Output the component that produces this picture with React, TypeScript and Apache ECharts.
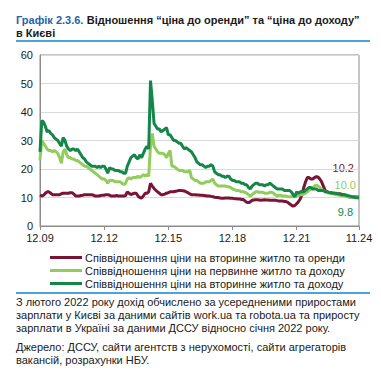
import React, { useEffect, useRef } from "react";
import * as echarts from "echarts";

// Months Dec 2009 .. Nov 2024 (180 monthly points)
const categories: string[] = (() => {
  const out: string[] = [];
  let y = 2009, m = 12;
  for (let i = 0; i < 180; i++) {
    out.push(String(m).padStart(2, "0") + "." + String(y % 100).padStart(2, "0"));
    m++;
    if (m > 12) { m = 1; y++; }
  }
  return out;
})();

const tickLabels = ["12.09", "12.12", "12.15", "12.18", "12.21", "11.24"];

const seriesNames = [
  "Співвідношення ціни на вторинне житло та оренди",
  "Співвідношення ціни на первинне житло та доходу",
  "Співвідношення ціни на вторинне житло та доходу",
];

const rentSecondary = [
  10.9, 10.5, 10.8, 11.5, 12, 12, 11.5, 11, 11, 11,
  11, 11, 11.3, 11.5, 11.5, 11.5, 11.5, 11.7, 11.7, 11.2,
  10.5, 10.5, 10.5, 10.7, 10.8, 11, 11, 11, 11, 11,
  10.8, 10.5, 10.5, 10.5, 10.7, 10.8, 10.8, 11, 11, 10.8,
  10.5, 10.5, 10.5, 10.7, 10.5, 10.5, 10.5, 10.5, 10.7, 12,
  11.5, 11, 11.3, 11.5, 11.5, 10.5, 10, 9.8, 10.5, 11.5,
  11.5, 12, 15, 14, 13.2, 12.5, 12, 11.5, 11, 11,
  11.2, 11.5, 11.7, 12, 12, 12, 12.2, 12.3, 12.5, 12.5,
  12.4, 12.3, 12, 11.7, 11.3, 11, 11, 11, 10.9, 10.9,
  10.8, 10.8, 10.7, 10.6, 10.5, 10.5, 10.4, 10.3, 10.1, 10,
  10, 9.8, 9.7, 9.7, 9.8, 9.8, 9.8, 9.7, 9.7, 9.6,
  9.6, 9.5, 9.5, 9.3, 9.3, 8.8, 8.3, 8.2, 8.5, 9,
  9.1, 9.2, 9.2, 9.1, 9, 9.1, 9.2, 9.1, 9.1, 9,
  9, 9, 9, 8.9, 8.8, 8.8, 8.8, 8.6, 8.6, 8.3,
  7.8, 7.3, 7, 7.2, 7.8, 8.5, 9.5, 11, 13.5, 15.5,
  17, 17, 16.5, 16.5, 17, 17.3, 17.2, 16.5, 15.5, 14,
  12.5, 12, 11.8, 11.7, 11.5, 11.5, 11.3, 11.2, 11.3, 11.2,
  11, 10.8, 10.5, 10.3, 10.2, 10.2, 10.2, 10.2, 10.2, 10.2,
];

const incomePrimary = [
  23, 30, 29, 28, 27, 26.5, 26.5, 26, 26.5, 26,
  25.5, 24, 22, 26, 27, 25, 24, 24, 23.5, 23.5,
  23, 23, 22.5, 22, 21.5, 21, 21, 20.5, 20, 19.5,
  19, 18.5, 18, 17.5, 17, 16.5, 16.5, 16, 15, 16,
  16, 16, 15.5, 15.5, 15.5, 15.5, 15, 14.5, 15, 16.5,
  17, 16.5, 17, 17, 17, 17.5, 17, 17.5, 18, 17.5,
  18, 17.5, 28, 32.5, 28, 27, 26, 25.5, 25.5, 25.5,
  25, 24, 25.5, 26.5, 21, 21, 20.5, 20, 19.5, 19.5,
  19.5, 19, 19, 19, 19.5, 17, 16.5, 16, 16, 15.5,
  15, 15, 15, 15.5, 15.5, 15.5, 16, 16.5, 15, 14.5,
  14, 14, 14, 14, 14, 13.8, 13.8, 13.5, 13, 12.8,
  12.5, 12.5, 12.3, 12, 12, 11.8, 11.5, 11, 10.5, 11,
  11.5, 12, 12, 11.8, 11.8, 11.8, 11.5, 11.5, 11.5, 11.8,
  11.8, 11.5, 11, 10.5, 10.8, 10.8, 10.5, 10.5, 10.5, 10.3,
  10.3, 10.3, 10.3, 10.3, 10.5, 10.8, 11, 11, 11.2, 11.5,
  12, 12.5, 12.8, 13.2, 14, 14.4, 14, 13.5, 12.8, 12.5,
  12, 11.8, 11.5, 11.5, 11.3, 11.2, 11, 11, 10.8, 10.7,
  10.6, 10.5, 10.4, 10.3, 10.2, 10.2, 10.1, 10, 10, 10,
];

const incomeSecondary = [
  26, 37, 36.5, 35, 33, 33.5, 32.5, 32, 31, 30.5,
  30, 29, 28, 31, 30, 28, 27, 26.5, 27, 27,
  26.5, 27, 26, 25, 24, 23.5, 22.5, 22, 21.5, 21,
  21, 21, 20.5, 21, 20.5, 21, 21, 20, 18.5, 20.5,
  20, 20, 19.5, 19.5, 19.5, 19, 19, 18.5, 18.5, 21,
  22.5, 24, 24.5, 25, 24, 23.5, 25, 24, 25.5, 27,
  28, 27, 51, 44, 36, 35, 34, 34, 33, 33.5,
  34, 34.5, 32, 32, 31, 30, 30, 29.5, 29, 29,
  28, 27, 27.5, 27, 26.5, 26, 25, 24, 22.5, 22,
  21.5, 21.5, 21, 20.5, 21, 21, 21.5, 21, 19, 18.5,
  18, 18, 17.5, 17.5, 17, 17.5, 17.5, 16.5, 16, 16,
  15.5, 15.5, 15.5, 15, 15, 14.5, 14.5, 13.5, 13, 14,
  14.5, 15, 15, 14.5, 14.5, 14.5, 14, 14.5, 14.5, 15,
  14.5, 14, 13.5, 13, 13, 13, 13, 12.5, 12.5, 12.5,
  12.5, 12, 11, 10.3, 12, 11.5, 12, 12, 12, 12.5,
  13, 13.5, 13.5, 13, 13, 13, 12.5, 12.5, 12.5, 12.5,
  12, 12, 11.8, 11.7, 11.6, 11.5, 11.5, 11.3, 11.2, 11,
  11, 11, 10.8, 10.6, 10.5, 10.3, 10.2, 10, 9.9, 9.8,
];

const endLabels = ["10.2", "10.0", "9.8"];
const colors = ["#7a1437", "#92cc5c", "#14864a"];

const FONT = "'Liberation Sans', Arial, sans-serif";

export default function App() {
  const ref = useRef<HTMLDivElement>(null);
  useEffect(() => {
    if (!ref.current) return;
    const chart = echarts.init(ref.current, null, { renderer: "svg" });
    const shown = new Set(tickLabels);
    const showIdx = (i: number) => shown.has(categories[i]);
    const mk = (idx: number, data: number[]) => ({
      name: seriesNames[idx],
      type: "line",
      data,
      showSymbol: false,
      symbol: "none",
      lineStyle: { color: colors[idx], width: 3 },
      itemStyle: { color: colors[idx] },
      z: 2 + idx,
    });
    chart.setOption({
      animation: false,
      textStyle: { fontFamily: FONT },
      grid: {
        left: 40, right: 22, top: 55, bottom: 145,
        show: true, borderColor: "#8c8c8c", borderWidth: 1,
      },
      legend: {
        orient: "vertical",
        left: 45,
        top: 247,
        itemWidth: 32,
        itemHeight: 3,
        itemGap: 2,
        icon: "rect",
        data: seriesNames,
        textStyle: { fontSize: 11, color: "#1a1a1a", fontFamily: FONT, padding: [0, 0, 0, -2] },
      },
      xAxis: {
        type: "category",
        data: categories,
        boundaryGap: false,
        axisLine: { lineStyle: { color: "#8c8c8c" } },
        axisTick: { show: true, interval: (i: number) => showIdx(i), length: 4, lineStyle: { color: "#8c8c8c" } },
        axisLabel: {
          interval: (i: number) => showIdx(i),
          fontSize: 11, color: "#1a1a1a", margin: 6, fontFamily: FONT,
          showMinLabel: true, showMaxLabel: true,
        },
        splitLine: { show: false },
      },
      yAxis: {
        type: "value",
        min: 0, max: 60, interval: 10,
        axisLine: { show: true, lineStyle: { color: "#8c8c8c" } },
        axisTick: { show: false },
        axisLabel: { fontSize: 11, color: "#1a1a1a", margin: 7, fontFamily: FONT },
        splitLine: { lineStyle: { color: "#d9d9d9", width: 1.2 } },
      },
      series: [mk(0, rentSecondary), mk(1, incomePrimary), mk(2, incomeSecondary)],
      graphic: [
        {
          type: "text", left: 16, top: 14,
          style: {
            text: "{a|Графік 2.3.6.} {b|Відношення “ціна до оренди” та “ціна до доходу”}",
            rich: {
              a: { fontSize: 11, fontWeight: "bold", fill: "#1f63a8", fontFamily: FONT },
              b: { fontSize: 11, fontWeight: "bold", fill: "#1a1a1a", fontFamily: FONT },
            },
          },
        },
        {
          type: "text", left: 16, top: 27,
          style: { text: "в Києві", fontSize: 11, fontWeight: "bold", fill: "#1a1a1a", fontFamily: FONT },
        },
        { type: "rect", shape: { x: 16, y: 40, width: 354, height: 2 }, style: { fill: "#4aa3dc" } },
        { type: "rect", shape: { x: 16, y: 292, width: 354, height: 2 }, style: { fill: "#4aa3dc" } },
        { type: "text", x: 354, y: 168, style: { text: endLabels[0], fill: colors[0], fontSize: 11, align: "right", verticalAlign: "middle", fontFamily: FONT } },
        { type: "text", x: 356, y: 185, style: { text: endLabels[1], fill: colors[1], fontSize: 11, align: "right", verticalAlign: "middle", fontFamily: FONT } },
        { type: "text", x: 353, y: 212, style: { text: endLabels[2], fill: colors[2], fontSize: 11, align: "right", verticalAlign: "middle", fontFamily: FONT } },
        {
          type: "text", x: 16, y: 295,
          style: {
            text: "З лютого 2022 року дохід обчислено за усередненими приростами\nзарплати у Києві за даними сайтів work.ua та robota.ua та приросту\nзарплати в Україні за даними ДССУ відносно січня 2022 року.",
            fontSize: 11, fill: "#1a1a1a", lineHeight: 13, fontFamily: FONT,
          },
        },
        {
          type: "text", x: 16, y: 340,
          style: {
            text: "Джерело: ДССУ, сайти агентств з нерухомості, сайти агрегаторів\nвакансій, розрахунки НБУ.",
            fontSize: 11, fill: "#1a1a1a", lineHeight: 13, fontFamily: FONT,
          },
        },
      ],
    });
    return () => chart.dispose();
  }, []);
  return (
    <div
      ref={ref}
      style={{ position: "absolute", left: 0, top: 0, width: 381, height: 371, background: "#fff" }}
    />
  );
}
